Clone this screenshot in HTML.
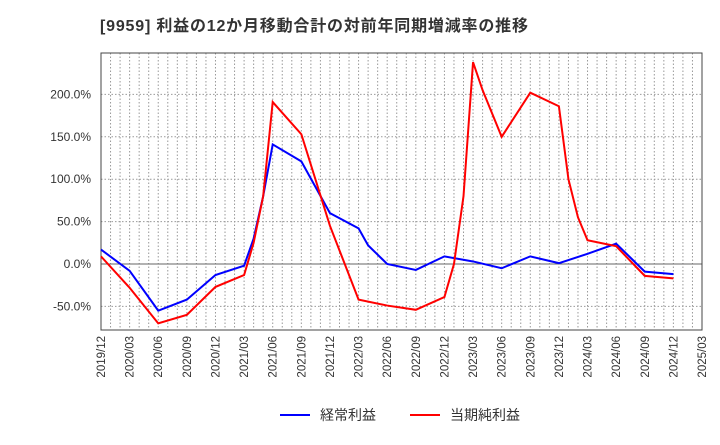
<!DOCTYPE html>
<html><head><meta charset="utf-8"><style>
body{margin:0;background:#fff;font-family:"Liberation Sans","Noto Sans CJK JP",sans-serif}
svg text{font-family:"Liberation Sans","Noto Sans CJK JP",sans-serif}
</style></head><body>
<svg width="720" height="440" id="c">
<text x="100" y="31" font-size="16" font-weight="bold" fill="#333" textLength="428">[9959]  利益の12か月移動合計の対前年同期増減率の推移</text>
<g id="grid"></g><g id="axes"></g><g id="lines"></g>
<g>
<line x1="280" y1="415" x2="310" y2="415" stroke="#0000ff" stroke-width="2"/>
<text x="320" y="420" font-size="14" fill="#333">経常利益</text>
<line x1="410" y1="415" x2="440" y2="415" stroke="#ff0000" stroke-width="2"/>
<text x="450" y="420" font-size="14" fill="#333">当期純利益</text>
</g>
</svg>
<script>
const xTickLabels=["2019/12","2020/03","2020/06","2020/09","2020/12","2021/03","2021/06","2021/09","2021/12","2022/03","2022/06","2022/09","2022/12","2023/03","2023/06","2023/09","2023/12","2024/03","2024/06","2024/09","2024/12","2025/03"];
const yTicks=[-50,0,50,100,150,200];
const blueMonths=[0,3,6,9,12,15,16,17,18,21,24,27,28,30,33,36,39,42,45,48,51,54,57,60];
const blueValues=[17,-8,-55,-42,-13,-2,30,80,141,121,60,42,22,0,-7,9,3,-5,9,1,12,24,-9,-12];
const redMonths=[0,3,6,9,12,15,16,17,18,21,24,27,30,33,36,37,38,39,40,42,45,48,49,50,51,54,57,60];
const redValues=[9,-28,-70,-60,-27,-13,25,80,191,153,45,-42,-49,-54,-39,0,80,238,205,150,202,186,100,55,28,21,-14,-17];
const L=101,R=702,T=53,B=330;
const xs=m=>L+m*(R-L)/63;
const ys=v=>264-v*0.848;
const NS="http://www.w3.org/2000/svg";
const grid=document.getElementById('grid'),axes=document.getElementById('axes'),lines=document.getElementById('lines');
function mk(t,a,p){const e=document.createElementNS(NS,t);for(const k in a)e.setAttribute(k,a[k]);p.appendChild(e);return e;}
for(let m=1;m<63;m++){
const g=mk('line',{x1:xs(m),x2:xs(m),y1:T,y2:B,stroke:'#999','stroke-dasharray':'1.5,2','stroke-width':1},grid);


}
yTicks.forEach(v=>{
const g=mk('line',{x1:L,x2:R,y1:ys(v),y2:ys(v),stroke:v===0?'#666':'#999','stroke-dasharray':v===0?'':'1.5,2','stroke-width':1},grid);


const t=mk('text',{x:L-10,y:ys(v)+4,'text-anchor':'end','font-size':12,fill:'#333'},axes);
t.textContent=v.toFixed(1)+'%';


});
xTickLabels.forEach((s,i)=>{
const x=xs(i*3);
const t=mk('text',{transform:`translate(${x+4},${B+6}) rotate(-90)`,'text-anchor':'end','font-size':11.5,fill:'#333'},axes);
t.textContent=s;


});
const fr=mk('rect',{x:L,y:T,width:R-L,height:B-T,fill:'none',stroke:'#444','stroke-width':1},axes);


function line(ms,vs,c,n){
const p=mk('polyline',{points:ms.map((m,i)=>xs(m)+','+ys(vs[i])).join(' '),fill:'none',stroke:c,'stroke-width':2},lines);


}
line(blueMonths,blueValues,'#0000ff','ordinary-profit-line');
line(redMonths,redValues,'#ff0000','net-profit-line');
</script>
</body></html>
